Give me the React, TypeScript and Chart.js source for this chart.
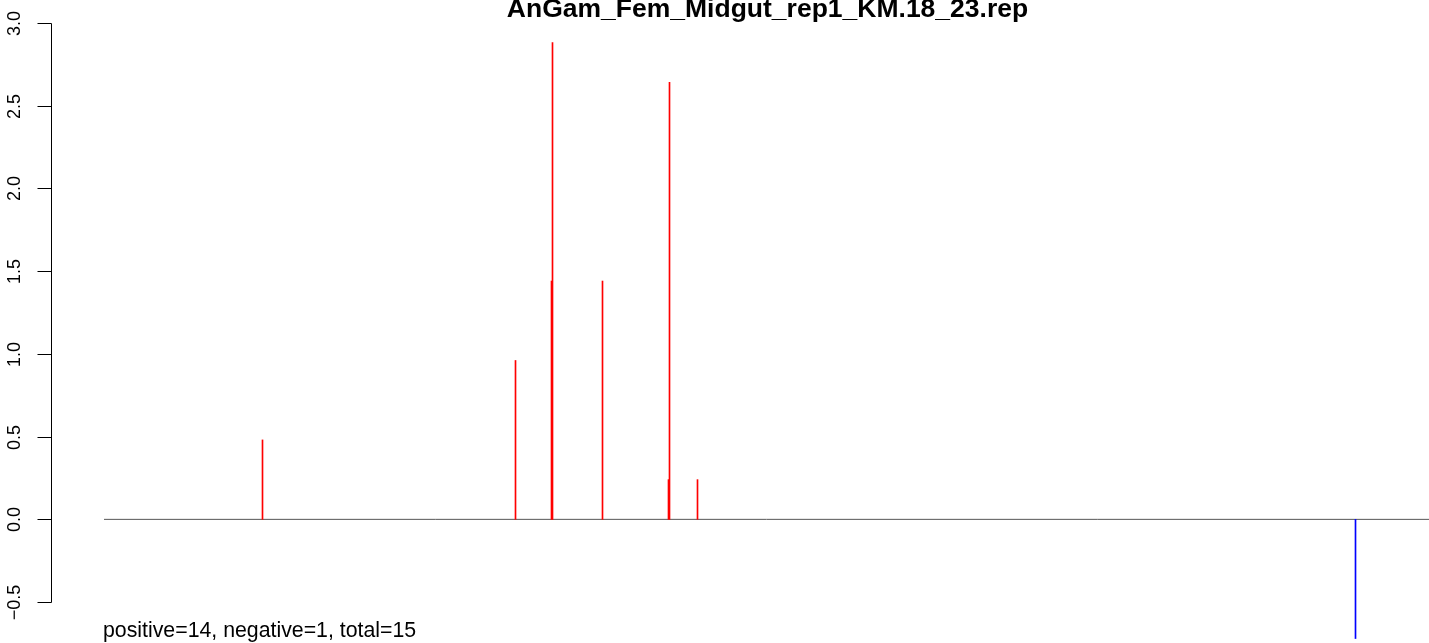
import React, { useEffect, useRef } from 'react';
import { Chart, registerables } from 'chart.js';

Chart.register(...registerables);

const TITLE = 'AnGam_Fem_Midgut_rep1_KM.18_23.rep';
const SUMMARY = 'positive=14, negative=1, total=15';

// positions along the sequence (x) and replicate scores (y)
const positivePositions = [421, 927, 999, 1001, 1101, 1233, 1235, 1291];
const positiveValues = [0.48, 0.96, 1.44, 2.88, 1.44, 0.24, 2.64, 0.24];
const negativePositions = [2607];
const negativeValues = [-0.72];

const yTickValues = [-0.5, 0, 0.5, 1, 1.5, 2, 2.5, 3];
const yTickLabels = ['\u22120.5', '0.0', '0.5', '1.0', '1.5', '2.0', '2.5', '3.0'];

const xRange = [0, 2754];
const yRange = [-0.747, 3.138];
const baselineSpan = [104, 2754];

const FONT = '"Liberation Sans", Arial, Helvetica, sans-serif';

const axisPlugin = {
  id: 'rAxis',
  afterDraw(chart: any) {
    const ctx = chart.ctx as CanvasRenderingContext2D;
    const y = chart.scales.y;
    const area = chart.chartArea;
    ctx.save();
    // y axis line
    const ax = area.left - 0.5;
    const yTop = Math.round(y.getPixelForValue(yTickValues[yTickValues.length - 1])) + 0.5;
    const yBot = Math.round(y.getPixelForValue(yTickValues[0])) + 0.5;
    ctx.strokeStyle = '#000';
    ctx.lineWidth = 1;
    ctx.beginPath();
    ctx.moveTo(ax, yTop);
    ctx.lineTo(ax, yBot);
    ctx.stroke();
    ctx.fillStyle = '#000';
    ctx.font = `18px ${FONT}`;
    ctx.textAlign = 'center';
    ctx.textBaseline = 'alphabetic';
    yTickValues.forEach((v, i) => {
      const py = Math.round(y.getPixelForValue(v)) + 0.5;
      ctx.beginPath();
      ctx.moveTo(ax, py);
      ctx.lineTo(ax - 14, py);
      ctx.stroke();
      ctx.save();
      ctx.translate(20, py);
      ctx.rotate(-Math.PI / 2);
      ctx.fillText(yTickLabels[i], 0, 0);
      ctx.restore();
    });
    // title
    ctx.font = `bold 26.5px ${FONT}`;
    ctx.textAlign = 'center';
    ctx.fillText(TITLE, 767.5, 17);
    // summary
    ctx.font = `21.3px ${FONT}`;
    ctx.textAlign = 'left';
    ctx.fillText(SUMMARY, 103, 637);
    ctx.restore();
  },
};

export default function App() {
  const ref = useRef<HTMLCanvasElement | null>(null);
  useEffect(() => {
    document.body.style.margin = '0';
    const canvas = ref.current;
    if (!canvas) return;
    const chart = new Chart(canvas, {
      type: 'bar',
      data: {
        datasets: [
          {
            type: 'line',
            label: 'baseline',
            data: baselineSpan.map((x) => ({ x, y: 0 })),
            borderColor: '#555555',
            borderWidth: 1,
            pointRadius: 0,
            order: 3,
          } as any,
          {
            label: 'positive',
            data: positivePositions.map((x, i) => ({ x, y: positiveValues[i] })),
            backgroundColor: '#ff0000',
            borderWidth: 0,
            barThickness: 1,
            grouped: false,
            order: 1,
          },
          {
            label: 'negative',
            data: negativePositions.map((x, i) => ({ x, y: negativeValues[i] })),
            backgroundColor: '#0000ff',
            borderWidth: 0,
            barThickness: 1,
            grouped: false,
            order: 2,
          },
        ],
      },
      options: {
        animation: false,
        responsive: false,
        maintainAspectRatio: false,
        layout: { padding: { left: 52, right: 0, top: 0, bottom: 0 } },
        plugins: { legend: { display: false }, tooltip: { enabled: false }, title: { display: false } },
        scales: {
          x: { type: 'linear', min: xRange[0], max: xRange[1], display: false, offset: false },
          y: { type: 'linear', min: yRange[0], max: yRange[1], display: false },
        },
      },
      plugins: [axisPlugin],
    });
    return () => chart.destroy();
  }, []);
  return (
    <div style={{ position: 'absolute', left: 0, top: 0, width: 1429, height: 643, background: '#fff' }}>
      <canvas ref={ref} width={1429} height={643} style={{ display: 'block' }} />
    </div>
  );
}
